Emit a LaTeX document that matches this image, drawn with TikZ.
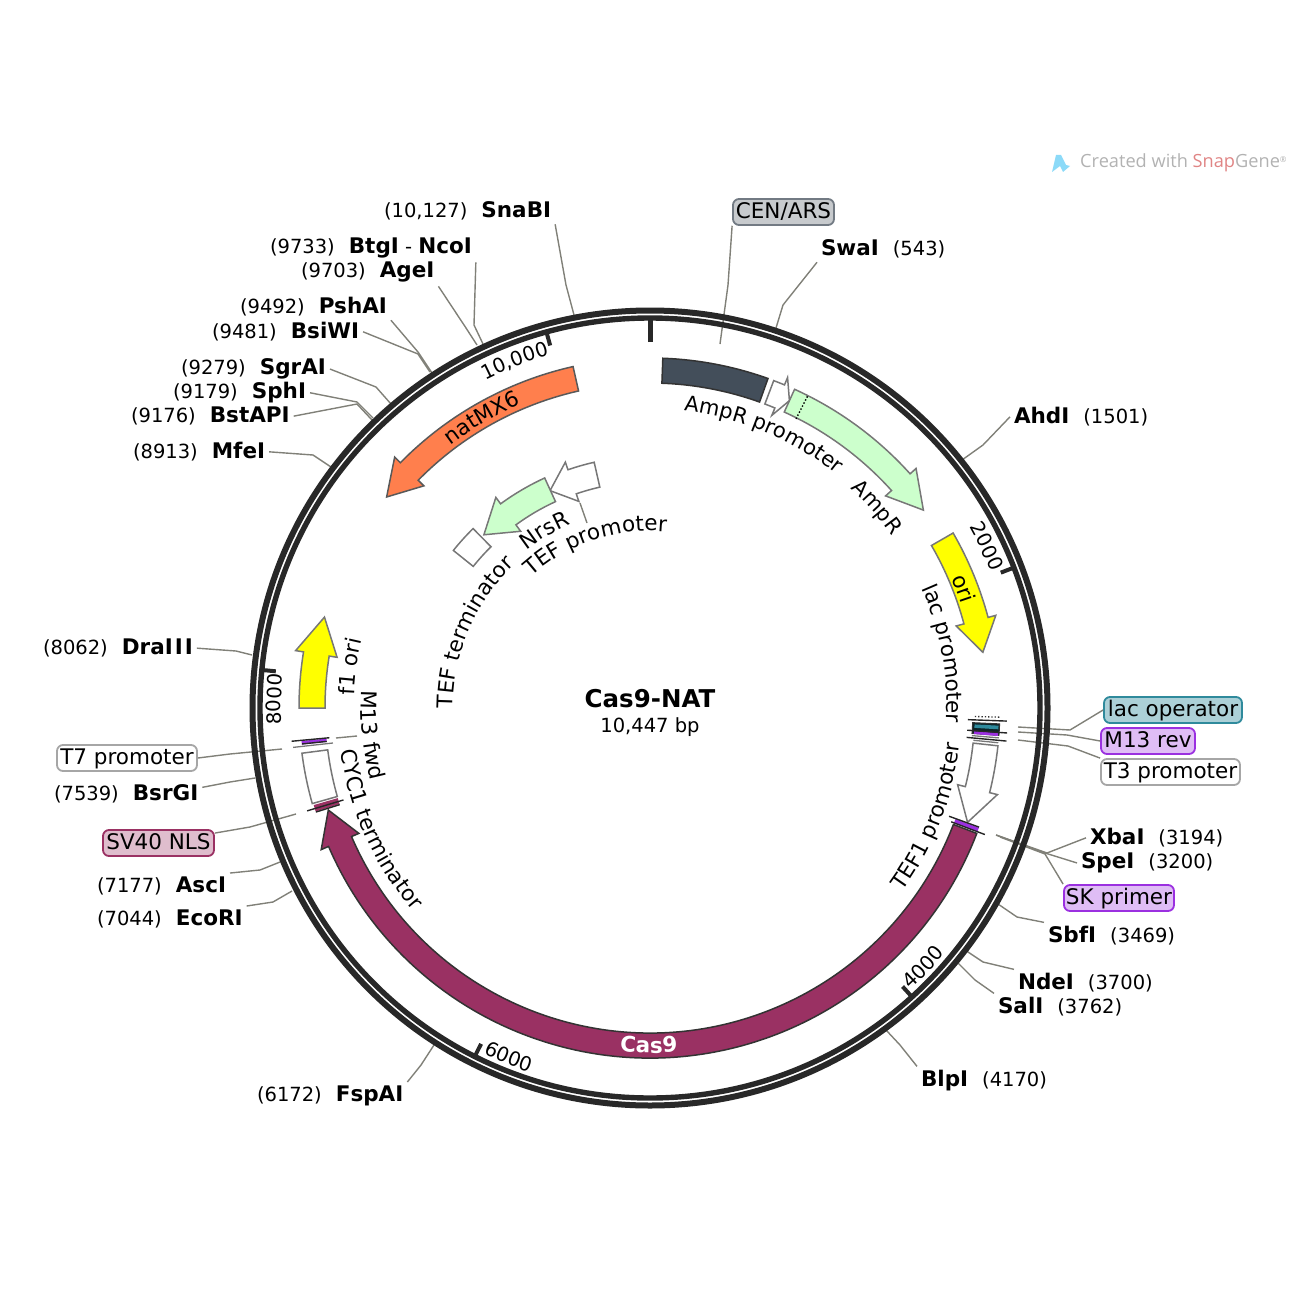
\documentclass[tikz,border=0pt]{standalone}
\usepackage{fontspec}
\setmainfont{DejaVu Sans}
\newfontfamily\markfont{Open Sans}
\usetikzlibrary{decorations.text}

\definecolor{ringblack}{HTML}{282828}
\definecolor{leadgray}{HTML}{808078}
\definecolor{edgegray}{HTML}{777777}
\definecolor{censlate}{HTML}{434E5A}
\definecolor{ampgreen}{HTML}{CCFFCC}
\definecolor{natorange}{HTML}{FF7F4D}
\definecolor{casplum}{HTML}{9A3163}
\definecolor{oriyellow}{HTML}{FFFF00}
\definecolor{mthree}{HTML}{9B30E0}
\definecolor{lacteal}{HTML}{2F8A9C}

\newcommand\labelfont{\fontsize{21.5}{25}\selectfont}
\newcommand\ampfont{\fontsize{21}{25}\selectfont}
\newcommand\numfont{\fontsize{19.5}{24}\selectfont}
\newcommand\tickfont{\fontsize{19.8}{24}\selectfont}
\newcommand\sname[1]{{\labelfont\bfseries #1}}

\tikzset{
  site/.style={anchor=base west, inner sep=0pt, outer sep=4pt, xshift=-4pt, yshift=-0.7pt, font=\numfont},
  leader/.style={draw=leadgray, line width=1.4pt},
  featbox/.style={draw=#1, line width=1.8pt, rounded corners=6pt, minimum height=26pt, inner sep=0pt, text height=15pt, text depth=1.5pt, font=\labelfont},
  outerring/.style={draw=ringblack, line width=6pt},
  innerring/.style={draw=ringblack, line width=5.4pt},
  feat/.style={draw=edgegray, line width=1.5pt, fill=#1},
  feat/.default=white,
  tickline/.style={draw=black!85, line width=1.4pt},
}

% arrow on the map: style, inner R, outer R, clock angles of tail, neck and tip
\newcommand\plasarrow[6][]{\draw[#1] ({90-#4}:#3) arc[start angle={90-#4},end angle={90-#5},radius=#3]
  -- ({90-#5}:{#3+8}) -- ({90-#6}:{(#2+#3)/2}) -- ({90-#5}:{#2-8}) -- ({90-#5}:#2)
  arc[start angle={90-#5},end angle={90-#4},radius=#2] -- cycle;}
\newcommand\plasband[5][]{\draw[#1] ({90-#4}:#3) arc[start angle={90-#4},end angle={90-#5},radius=#3]
  -- ({90-#5}:#2) arc[start angle={90-#5},end angle={90-#4},radius=#2] -- cycle;}
\newcommand\radline[4][tickline]{\draw[#1] ({90-#2}:#3) -- ({90-#2}:#4);}
\newcommand\arclabel[5][]{\path[decorate,decoration={text along path,text align=left,text={|\labelfont#1|#5}}]
  ({90-#3}:#2) arc[start angle={90-#3},end angle={90-#4},radius=#2];}
\newcommand\leadline[4]{\coordinate (#1B) at (#3); \coordinate (#1E) at (#4); \draw[leader] (#1.#2) -- (#1B) -- (#1E);}

\begin{document}
\begin{tikzpicture}[x=1pt,y=-1pt]

\useasboundingbox (0,0) rectangle (1300,1300);

% watermark
\fill[cyan!45] (1052,172) -- (1056,155) -- (1061,155) -- (1066,165) -- (1070,166) -- (1063,172) -- (1060,166) -- cycle;
\node[anchor=west, inner sep=0pt, font=\markfont\fontsize{18.2}{20}\selectfont, text=gray!60] (snapmark) at (1080,163)
  {Created with \textcolor{red!60!gray!60}{Snap}Gene\raisebox{5pt}{\fontsize{8}{9}\selectfont®}};

% sites, left side
\node[site] (snabi) at (384,217) {(10,127)\hspace{14pt}\sname{SnaBI}};
\node[site] (btgi) at (270,253) {(9733)\hspace{14pt}\sname{BtgI} - \sname{NcoI}};
\node[site] (agei) at (301,277) {(9703)\hspace{14pt}\sname{AgeI}};
\node[site] (pshai) at (240,313) {(9492)\hspace{14pt}\sname{PshAI}};
\node[site] (bsiwi) at (212,338) {(9481)\hspace{14pt}\sname{BsiWI}};
\node[site] (sgrai) at (181,374) {(9279)\hspace{14pt}\sname{SgrAI}};
\node[site] (sphi) at (173,398) {(9179)\hspace{14pt}\sname{SphI}};
\node[site] (bstapi) at (131,422) {(9176)\hspace{14pt}\sname{BstAPI}};
\node[site] (mfei) at (133,458) {(8913)\hspace{14pt}\sname{MfeI}};
\node[site] (draiii) at (43,654) {(8062)\hspace{14pt}\sname{DraI\kern2pt I\kern2pt I}};
\node[site] (bsrgi) at (54,800) {(7539)\hspace{14pt}\sname{BsrGI}};
\node[site] (asci) at (97,892) {(7177)\hspace{14pt}\sname{AscI}};
\node[site] (ecori) at (97,925) {(7044)\hspace{14pt}\sname{EcoRI}};
\node[site] (fspai) at (257,1101) {(6172)\hspace{14pt}\sname{FspAI}};

% sites, right side
\node[site] (swai) at (821,255) {\sname{SwaI}\hspace{14pt}(543)};
\node[site] (ahdi) at (1014,423) {\sname{AhdI}\hspace{14pt}(1501)};
\node[site] (xbai) at (1090,844) {\sname{XbaI}\hspace{14pt}(3194)};
\node[site] (spei) at (1081,868) {\sname{SpeI}\hspace{14pt}(3200)};
\node[site] (sbfi) at (1048,942) {\sname{SbfI}\hspace{14pt}(3469)};
\node[site] (ndei) at (1018,989) {\sname{NdeI}\hspace{14pt}(3700)};
\node[site] (sali) at (998,1013) {\sname{SalI}\hspace{14pt}(3762)};
\node[site] (blpi) at (921,1086) {\sname{BlpI}\hspace{14pt}(4170)};

% feature boxes
\node[featbox=censlate!75, fill=censlate!30, minimum width=101pt] (cenars) at (783.5,212) {CEN/ARS};
\node[featbox=lacteal, fill=lacteal!40, minimum width=138pt] (lacop) at (1173,710) {lac operator};
\node[featbox=mthree, fill=mthree!32, minimum width=94pt] (mrev) at (1148,741) {M13 rev};
\node[featbox=black!35, fill=white, minimum width=139pt] (tthree) at (1170.5,772) {T3 promoter};
\node[featbox=mthree, fill=mthree!32, minimum width=110pt] (skprimer) at (1119,898) {SK primer};
\node[featbox=black!35, fill=white, minimum width=140pt] (tseven) at (127,758) {T7 promoter};
\node[featbox=casplum, fill=casplum!32, minimum width=111pt] (svnls) at (158.5,843) {SV40 NLS};

% leaders
\leadline{snabi}{south east}{566,285}{574,315}
\leadline{btgi}{south east}{474,325}{483,344}
\leadline{agei}{south east}{466,328}{477,345}
\leadline{pshai}{south east}{418,352}{432,373}
\leadline{bsiwi}{east}{418,354}{430,372}
\leadline{sgrai}{east}{376,387}{391,404}
\leadline{sphi}{east}{357,402}{373,418}
\leadline{bstapi}{east}{357,404}{372,420}
\leadline{mfei}{east}{313,455}{331,467}
\leadline{draiii}{east}{236,651}{252,655}
\leadline{bsrgi}{5}{230,782}{255,778}
\leadline{asci}{north east}{260,870}{280,862}
\leadline{ecori}{north east}{273,902}{292,891}
\leadline{fspai}{north east}{421,1065}{434,1045}
\leadline{swai}{south west}{783,305}{776,328}
\leadline{ahdi}{west}{983,445}{962,460}
\leadline{xbai}{west}{1047,853}{996,835}
\leadline{spei}{west}{1045,853}{996,835}
\leadline{skprimer}{north west}{1045,854}{1000,837}
\leadline{sbfi}{north west}{1017,917}{998,904}
\leadline{ndei}{north west}{983,962}{965,950}
\leadline{sali}{north west}{975,980}{957,962}
\leadline{blpi}{north west}{900,1045}{886,1030}
\leadline{cenars}{195.3}{728,285}{720,344}
\leadline{lacop}{west}{1070,730}{1018,727}
\leadline{mrev}{west}{1067,735}{1018,732}
\leadline{tthree}{north west}{1068,746}{1018,740}
\leadline{tseven}{east}{230,754}{282,749}
\leadline{svnls}{10}{250,827}{296,814}
\coordinate (mfwdA) at (336,738);
\coordinate (mfwdB) at (357,736);
\draw[leader] (mfwdA) -- (mfwdB);
\coordinate (tefpA) at (580,503);
\coordinate (tefpB) at (587,523);
\draw[leader] (tefpA) -- (tefpB);

\node[inner sep=0pt, font=\bfseries\fontsize{24.5}{28}\selectfont] (title) at (650,699) {Cas9-NAT};
\node[inner sep=0pt, font=\numfont] (size) at (650,727) {10,447 bp};

\begin{scope}[shift={(650,708)},x=1pt,y=1pt]

\draw[outerring] (0,0) circle (397.5);
\draw[innerring] (0,0) circle (390);

\radline[draw=ringblack, line width=5pt]{0}{366}{389}
\radline[draw=ringblack, line width=4pt]{68.9}{376}{389}
\radline[draw=ringblack, line width=4pt]{137.8}{376}{389}
\radline[draw=ringblack, line width=4pt]{206.7}{376}{389}
\radline[draw=ringblack, line width=4pt]{275.6}{376}{389}
\radline[draw=ringblack, line width=4pt]{344.6}{376}{389}

\arclabel[\tickfont]{367}{60.4}{75}{2000}
\arclabel[\tickfont]{383.5}{137.3}{120}{4000}
\arclabel[\tickfont]{383.5}{205.8}{190}{6000}
\arclabel[\tickfont]{369}{267.4}{282}{8000}
\arclabel[\tickfont]{367}{333.3}{350}{10,000}

% features on the outer track
\plasband[draw=black!80, line width=1.5pt, fill=censlate]{325}{350}{2.1}{19.7}
\plasarrow[feat]{325}{350}{20.7}{22.6}{24.4}
\plasarrow[feat=ampgreen]{325}{350}{24.4}{48}{54.1}
\draw[black, dotted, line width=1.4pt] ({90-26.8}:324) -- ({90-26.8}:350);
\plasarrow[feat=oriyellow]{325}{350}{60}{75}{80.5}

\radline[draw=black!80, line width=1.3pt, dotted]{91.5}{325}{350}
\radline{92.1}{318}{357}
\plasband[draw=black!80, line width=1pt, fill=black!75!lacteal]{323}{350}{92.6}{94.5}
\plasband[draw=none, fill=lacteal]{325}{349}{92.9}{93.5}
\plasband[draw=none, fill=mthree]{325}{349}{94.1}{94.6}
\radline{94}{318}{358}
\radline[draw=edgegray, line width=1.3pt]{94.9}{323}{350}
\radline{95.3}{318}{358}
\radline[draw=edgegray, line width=1.3pt]{95.7}{325}{350}
\plasarrow[feat]{325}{350}{96.2}{104}{109.8}

\plasarrow[draw=black!80, line width=1.5pt, fill=casplum]{325}{350}{111}{246.7}{252.4}
\plasband[draw=none, fill=mthree]{325}{350}{110}{110.7}
\radline{109.9}{318}{350}
\radline{110.7}{322}{358}

\plasband[draw=none, fill=casplum]{325}{350}{252.8}{253.9}
\radline{253.3}{320}{358}
\radline{252.7}{325}{350}
\plasband[feat]{325}{351}{254.2}{262.6}

\radline[draw=edgegray, line width=1.3pt]{263.7}{319}{359}
\plasband[draw=none, fill=mthree]{325}{350}{264}{264.6}
\radline{264.7}{322}{360}
\radline{264.1}{325}{350}

\plasarrow[feat=oriyellow]{325}{351}{270}{279.2}{285.6}
\plasarrow[draw=black!65, line width=1.5pt, fill=natorange]{325}{350}{347.3}{314.5}{308.7}

% features on the inner track
\plasarrow[feat]{226.5}{252}{347.2}{341}{335.3}
\plasarrow[feat=ampgreen]{227}{253}{335.4}{323.8}{316.2}
\plasband[feat]{226.5}{252}{315.4}{308.7}

% curved labels
\arclabel[\ampfont]{299}{6.5}{45}{AmpR promoter}
\arclabel[\ampfont]{297}{42.5}{60}{AmpR}
\arclabel{328}{66.7}{76}{ori}
\arclabel{297}{66.2}{98}{lac promoter}
\arclabel{312}{126}{90}{TEF1 promoter}
\arclabel[\bfseries\color{white}]{345}{185}{172}{Cas9}
\arclabel{312}{262.2}{222}{CYC1 terminator}
\arclabel{289}{273.5}{250}{M13 fwd}
\arclabel{296}{272.5}{290}{f1 ori}
\arclabel{330}{322.8}{340}{natMX6}
\arclabel{200}{322}{345}{NrsR}
\arclabel{177}{318}{372}{TEF promoter}
\arclabel{197}{270}{325}{TEF terminator}

\end{scope}

\end{tikzpicture}
\end{document}
